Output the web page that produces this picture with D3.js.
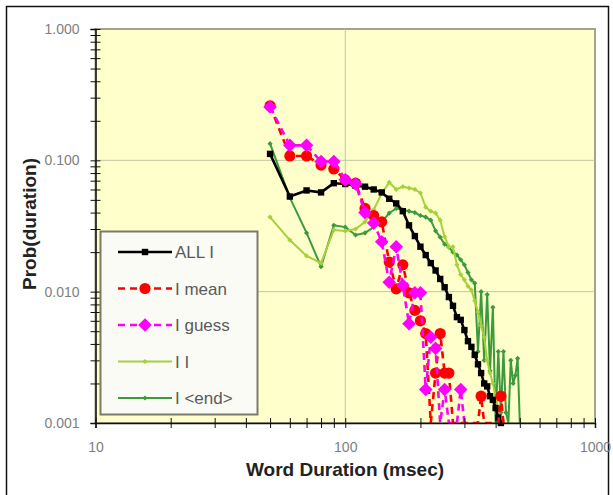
<!DOCTYPE html>
<html><head><meta charset="utf-8">
<script src="https://cdn.jsdelivr.net/npm/d3@7"></script>
<style>body{margin:0;background:#fff}svg{display:block}</style>
</head><body>
<svg id="c" width="613" height="495"></svg>
<script>
// ---- data ----
const durStart = 50, durStep = 10;
const allI = [0.112,0.053,0.059,0.057,0.067,0.066,0.064,0.063,0.060,0.057,0.051,0.047,0.041,0.032,0.0265,0.022,0.019,0.0165,0.0145,0.0125,0.0108,0.0091,0.0078,0.0064,0.0061,0.0051,0.0042,0.0038,0.0033,0.0028,0.0024,0.0020,0.0019,0.0016,0.0015,0.0013,0.0011,0.0010];
const iMean = [0.26,0.108,0.108,0.092,0.086,0.071,0.067,0.043,0.038,0.034,0.0168,0.0105,0.016,0.0098,0.0072,0.006,0.0048,0,0.0024,0.0048,0.0024,0.0024,0,0,0,0,0,0,0,0,0.0016,0,0,0,0,0,0,0.0016,0];
const iGuess = [0.255,0.13,0.13,0.098,0.098,0.071,0.066,0.040,0.0333,0.024,0.0118,0.022,0.0112,0.0057,0.0098,0.0098,0.0018,0.0045,0.0037,0,0.0018,0,0,0,0.0018,0];
const iI = [0.037,0.0247,0.0187,0.0165,0.0295,0.029,0.030,0.034,0.042,0.056,0.068,0.060,0.063,0.0615,0.060,0.0564,0.044,0.041,0.0397,0.035,0.0262,0.022,0.0219,0.016,0.0135,0.0123,0.0110,0.0103,0.0085,0.0070,0.0055,0.0045,0.0030,0.0024,0.0020,0.0016,0.0012,0.0010,0];
const iEnd = [0.134,0.052,0.028,0.0155,0.032,0.031,0.027,0.028,0.031,0.034,0.0397,0.043,0.042,0.041,0.040,0.038,0.037,0.035,0.029,0.026,0.023,0.0218,0.020,0.019,0.0175,0.016,0.014,0.0123,0.0116,0.0035,0.0100,0.0030,0.0095,0.0025,0.0076,0,0.0035,0.0012,0.0035,0.0012,0,0.0030,0.0020,0.0023,0.0031,0];
const seriesNames = ["ALL I","I mean","I guess","I I","I <end>"];
const yTicks = [0.001,0.01,0.1,1];
const xTicks = [10,100,1000];

// ---- setup ----
const svg = d3.select("#c");
const x = d3.scaleLog().domain([10,1000]).range([95.5,595]);
const y = d3.scaleLog().domain([0.001,1]).range([423,29]).clamp(true);
const toPts = arr => arr.map((v,i)=>({d:durStart+i*durStep,v}));
const FONT = "Liberation Sans, Arial, sans-serif";

svg.append("rect").attr("x",6.5).attr("y",6.5).attr("width",602).attr("height",520)
  .attr("fill","#fff").attr("stroke","#111").attr("stroke-width",1.5);

svg.append("rect").attr("x",x(10)).attr("y",y(1)).attr("width",x(1000)-x(10)).attr("height",y(0.001)-y(1))
  .attr("fill","#ffffcc").attr("stroke","#a4a48c").attr("stroke-width",2);

// grid
const g = svg.append("g");
[0.01,0.1].forEach(t=>g.append("line").attr("x1",x(10)).attr("x2",x(1000)).attr("y1",y(t)).attr("y2",y(t)).attr("stroke","#c4c4a4").attr("stroke-width",1));
g.append("line").attr("x1",x(100)).attr("x2",x(100)).attr("y1",y(1)).attr("y2",y(0.001)).attr("stroke","#c4c4a4").attr("stroke-width",1);

// clip
svg.append("clipPath").attr("id","clip").append("rect")
  .attr("x",x(10)).attr("y",y(1)).attr("width",x(1000)-x(10)).attr("height",y(0.001)-y(1)+1);

const minorX = [], minorY = [];
for (let e=1;e<=2;e++) for (let k=2;k<=9;k++) minorX.push(k*Math.pow(10,e));
for (let e=-3;e<=-1;e++) for (let k=2;k<=9;k++) minorY.push(+(k*Math.pow(10,e)).toPrecision(3));

const diamond = r => `M0,${-r}L${r},0L0,${r}L${-r},0Z`;
const square = r => `M${-r},${-r}H${r}V${r}H${-r}Z`;
const circle = r => `M${r},0A${r},${r},0,1,1,${-r},0A${r},${r},0,1,1,${r},0Z`;

const line = d3.line().x(p=>x(p.d)).y(p=>y(p.v));
const plot = svg.append("g");
function drawSeries(arr, color, width, dash, marker){
  const pts = toPts(arr);
  plot.append("path").datum(pts).attr("d",line).attr("fill","none")
    .attr("stroke",color).attr("stroke-width",width).attr("stroke-dasharray",dash||null)
    .attr("clip-path","url(#clip)").attr("stroke-linejoin","round");
  plot.append("g").selectAll("path").data(pts.filter(p=>p.v>0)).join("path")
    .attr("transform",p=>`translate(${x(p.d)},${y(p.v)})`)
    .attr("d",marker).attr("fill",color);
}
const S = {
  allI:{c:"#000000",w:2.6,dash:null,m:square(3.2)},
  mean:{c:"#ff0000",w:2.6,dash:"7,5",m:circle(5.6)},
  guess:{c:"#ff00ff",w:2.6,dash:"7,5",m:diamond(6.8)},
  ii:{c:"#a6d03c",w:2,dash:null,m:diamond(2.6)},
  end:{c:"#3c9a3c",w:2,dash:null,m:diamond(2.6)}
};
drawSeries(iEnd, S.end.c, S.end.w, null, S.end.m);
drawSeries(iI, S.ii.c, S.ii.w, null, S.ii.m);
drawSeries(allI, S.allI.c, S.allI.w, null, S.allI.m);
drawSeries(iMean, S.mean.c, S.mean.w, S.mean.dash, S.mean.m);
drawSeries(iGuess, S.guess.c, S.guess.w, S.guess.dash, S.guess.m);

// axes
const yAxis = d3.axisLeft(y).tickValues(yTicks.concat(minorY)).tickSize(5).tickPadding(10)
  .tickFormat(v=>yTicks.includes(v)?d3.format(".3f")(v):"");
const ya = svg.append("g").attr("transform",`translate(${x(10)},0)`).call(yAxis);
ya.selectAll(".tick line").attr("x1",5).attr("x2",-5).attr("stroke","#111");
ya.select(".domain").attr("stroke","#111").attr("stroke-width",1.5);
ya.selectAll("text").attr("font-family",FONT).attr("font-size",14).attr("fill","#808080").attr("dx",-1);

const xAxis = d3.axisBottom(x).tickValues(xTicks.concat(minorX)).tickSize(5).tickPadding(14)
  .tickFormat(v=>xTicks.includes(v)?String(v):"");
const xa = svg.append("g").attr("transform",`translate(0,${y(0.001)})`).call(xAxis);
xa.selectAll(".tick line").attr("y1",-5).attr("y2",5).attr("stroke","#111");
xa.select(".domain").attr("stroke","#111").attr("stroke-width",1.5);
xa.selectAll("text").attr("font-family",FONT).attr("font-size",14).attr("fill","#808080");

// titles
svg.append("text").attr("x",345).attr("y",476).attr("text-anchor","middle")
  .attr("font-family",FONT).attr("font-weight","bold").attr("font-size",19).attr("fill","#222")
  .text("Word Duration (msec)");
svg.append("text").attr("transform","translate(36,224) rotate(-90)").attr("text-anchor","middle")
  .attr("font-family",FONT).attr("font-weight","bold").attr("font-size",19).attr("fill","#222")
  .text("Prob(duration)");

// legend
const lg = svg.append("g");
lg.append("rect").attr("x",100.5).attr("y",231.5).attr("width",157).attr("height",183)
  .attr("fill","#fbfbf6").attr("stroke","#7a7a6a").attr("stroke-width",2);
const legendStyles = [S.allI, S.mean, S.guess, S.ii, S.end];
seriesNames.forEach((n,i)=>{
  const yy = 252 + i*36.5;
  const s = legendStyles[i];
  lg.append("line").attr("x1",118).attr("x2",172).attr("y1",yy).attr("y2",yy)
    .attr("stroke",s.c).attr("stroke-width",s.w).attr("stroke-dasharray",s.dash);
  lg.append("path").attr("transform",`translate(145,${yy})`).attr("d",s.m).attr("fill",s.c);
  lg.append("text").attr("x",175).attr("y",yy+6).attr("font-family",FONT)
    .attr("font-size",17).attr("fill","#5a5a5a").text(n);
});
</script>
</body></html>
